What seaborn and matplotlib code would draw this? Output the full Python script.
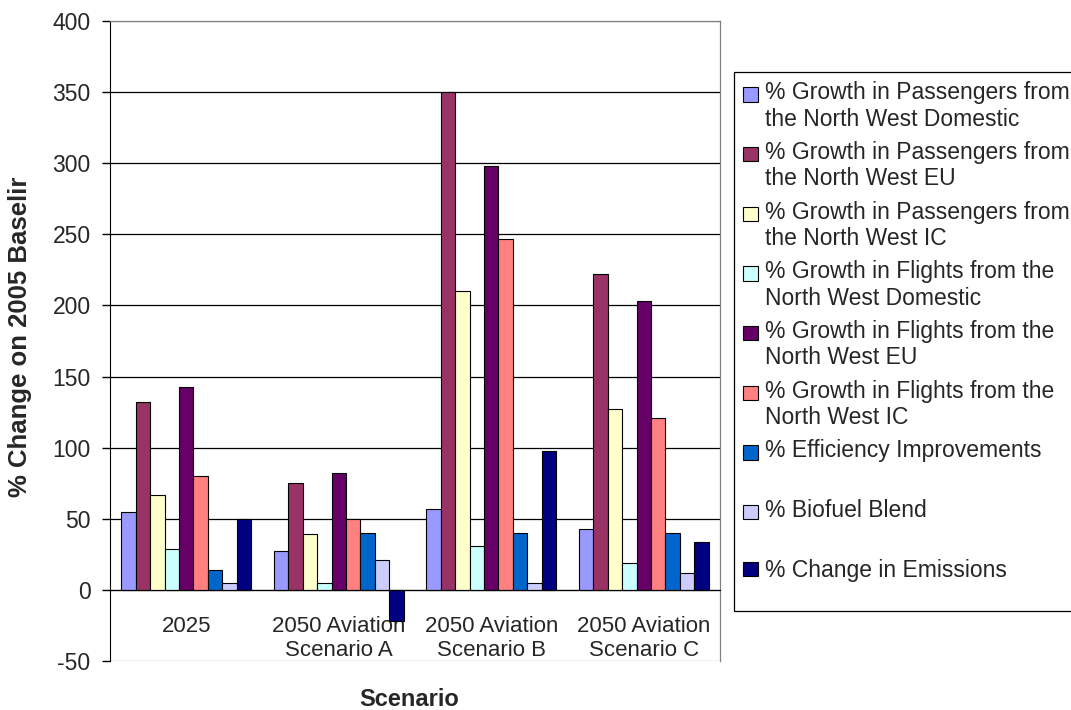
import pandas as pd
import numpy as np
import matplotlib
matplotlib.use('Agg')
import matplotlib.pyplot as plt
import matplotlib.patches as mpatches
from matplotlib.legend_handler import HandlerPatch
import seaborn as sns

## Values

scenarios = ['2025', '2050 Aviation\nScenario A', '2050 Aviation\nScenario B', '2050 Aviation\nScenario C']
series = ['% Growth in Passengers from\nthe North West Domestic',
          '% Growth in Passengers from\nthe North West EU',
          '% Growth in Passengers from\nthe North West IC',
          '% Growth in Flights from the\nNorth West Domestic',
          '% Growth in Flights from the\nNorth West EU',
          '% Growth in Flights from the\nNorth West IC',
          '% Efficiency Improvements\n ',
          '% Biofuel Blend\n ',
          '% Change in Emissions\n ']
pax_dom = [55, 27, 57, 43]
pax_eu = [132, 75, 350, 222]
pax_ic = [67, 39, 210, 127]
flt_dom = [29, 5, 31, 19]
flt_eu = [143, 82, 298, 203]
flt_ic = [80, 50, 247, 121]
efficiency = [14, 40, 40, 40]
biofuel = [5, 21, 5, 12]
emissions = [50, -22, 98, 34]
colors = ['#9999FF', '#993366', '#FFFFCC', '#CCFFFF', '#660066',
          '#FF8080', '#0066CC', '#CCCCFF', '#000080']

values = [pax_dom, pax_eu, pax_ic, flt_dom, flt_eu, flt_ic, efficiency, biofuel, emissions]
rows = []
for s, vals in zip(series, values):
    for c, v in zip(scenarios, vals):
        rows.append({'Scenario': c, 'Series': s, 'Value': v})
df = pd.DataFrame(rows)

## Plot

sns.set_style('white')
plt.rcParams['font.family'] = ['Liberation Sans', 'DejaVu Sans']
plt.rcParams['axes.unicode_minus'] = False

fig = plt.figure(figsize=(10.71, 7.10), dpi=100)
ax = fig.add_axes([110/1071, 1 - 661/710, 610/1071, 640/710])

sns.barplot(data=df, x='Scenario', y='Value', hue='Series', order=scenarios,
            hue_order=series, palette=colors, saturation=1, width=0.853,
            errorbar=None, edgecolor='black', linewidth=0.8, ax=ax, legend=True)

ax.set_ylim(-50, 400)
ax.set_xlim(-0.5, 3.5)
ax.set_yticks(np.arange(-50, 401, 50))
ax.grid(axis='y', color='black', linewidth=0.9)
ax.grid(axis='x', visible=False)
ax.set_axisbelow(True)
glines = ax.get_ygridlines()
glines[0].set_color('#808080')
glines[-1].set_color('#808080')

for side in ['top', 'right']:
    ax.spines[side].set_color('#808080')
    ax.spines[side].set_linewidth(0.9)
ax.spines['left'].set_color('black')
ax.spines['bottom'].set_color('black')
ax.spines['bottom'].set_position(('data', 0))

ax.set_xticks(np.arange(-0.5, 3.6, 1), minor=True)
ax.tick_params(axis='x', which='major', length=0, pad=19, labelsize=16)
ax.tick_params(axis='x', which='minor', length=5, width=1, color='black', direction='out')
ax.tick_params(axis='y', length=6, width=1, color='black', direction='out', pad=8, labelsize=16.5)
ax.yaxis.set_ticks_position('left')

ax.set_xlabel('Scenario', fontsize=17, fontweight='bold')
ax.xaxis.set_label_coords(0.49, -0.042)
ax.set_ylabel('% Change on 2005 Baselir', fontsize=18.5, fontweight='bold')
ax.yaxis.set_label_coords(-0.128, 0.507)

# legend squares sit next to the first line of each label
def top_square(legend, orig_handle, xdescent, ydescent, width, height, fontsize):
    return mpatches.Rectangle((-xdescent, -ydescent + 0.54 * fontsize), width, height)

handles, labels = ax.get_legend_handles_labels()
ax.legend_.remove()
leg = fig.legend(handles, labels, loc='upper left', bbox_to_anchor=(734/1071, 1 - 72/710),
                 bbox_transform=fig.transFigure, borderaxespad=0, fontsize=16.5,
                 frameon=True, fancybox=False, shadow=False, framealpha=1,
                 edgecolor='black', handlelength=0.66, handleheight=0.58,
                 handletextpad=0.28, labelspacing=0.44, borderpad=0.4,
                 handler_map={mpatches.Rectangle: HandlerPatch(patch_func=top_square)})
leg.get_frame().set_linewidth(0.9)
for t in leg.get_texts():
    t.set_linespacing(1.2)
leg.get_texts()[-1].set_linespacing(0.85)

plt.savefig('out.png', dpi=100)
